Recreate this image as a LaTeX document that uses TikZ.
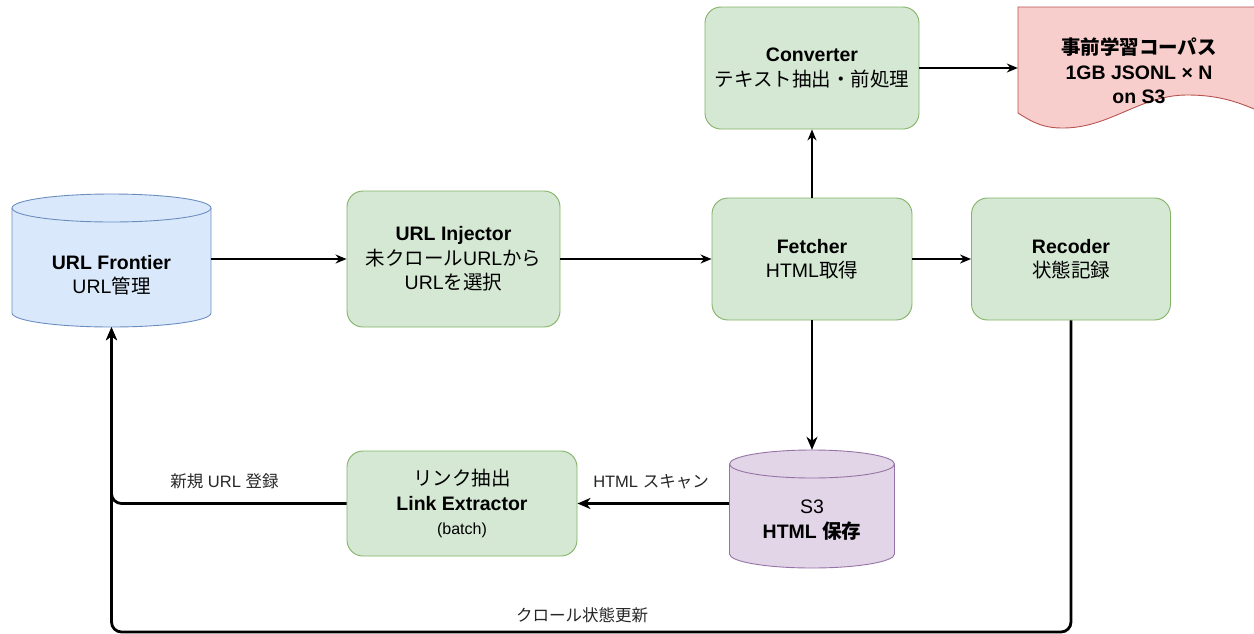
\documentclass[tikz,border=0pt]{standalone}
\usepackage{fontspec}
\setmainfont{Liberation Sans}
\newfontfamily\jpfont{Noto Sans CJK JP}
\newcommand\ja[1]{{\jpfont #1}}
\usetikzlibrary{arrows.meta}
\definecolor{gF}{HTML}{D5E8D4}
\definecolor{gD}{HTML}{82B366}
\definecolor{bF}{HTML}{DAE8FC}
\definecolor{bD}{HTML}{6C8EBF}
\definecolor{pF}{HTML}{E1D5E7}
\definecolor{pD}{HTML}{9673A6}
\definecolor{rF}{HTML}{F8CECC}
\definecolor{rD}{HTML}{B85450}
\begin{document}
\begin{tikzpicture}[x=1pt,y=-1pt,
  mainfs/.style={font=\fontsize{19.5}{24.5}\selectfont},
  box/.style={draw=gD, fill=gF, rounded corners=16pt, line width=0.9pt, align=center, mainfs, inner sep=0pt},
  anchorbox/.style={draw=none, inner sep=0pt, align=center, mainfs},
  arr/.style={-{Stealth[length=11pt,width=9pt,inset=3.5pt]}, line width=1.4pt},
  tarr/.style={-{Stealth[length=13pt,width=11pt,inset=4pt]}, line width=2.8pt, rounded corners=10pt},
  lbl/.style={font=\fontsize{16.5}{19}\selectfont, text=black!85}]
\useasboundingbox (0,0) rectangle (1254,633);
\fill[white] (0,0) rectangle (1254,633);

% URL Frontier cylinder
\draw[draw=bD, fill=bF, line width=0.9pt] (12,208) -- (12,313)
  arc[start angle=180,end angle=360,x radius=99.5pt,y radius=14pt] -- (211,208)
  arc[start angle=0,end angle=180,x radius=99.5pt,y radius=14pt] -- cycle;
\draw[draw=bD, line width=0.9pt] (12,208) arc[start angle=180,end angle=360,x radius=99.5pt,y radius=14pt];
\node[anchorbox, minimum width=199pt, minimum height=133pt] (front) at (111.5,260.5) {};
\node[anchorbox] (fronttxt) at (111.5,275) {\textbf{URL Frontier}\\URL\ja{管理}};

% S3 cylinder
\draw[draw=pD, fill=pF, line width=0.9pt] (729.5,464) -- (729.5,554)
  arc[start angle=180,end angle=360,x radius=82.5pt,y radius=14pt] -- (894.5,464)
  arc[start angle=0,end angle=180,x radius=82.5pt,y radius=14pt] -- cycle;
\draw[draw=pD, line width=0.9pt] (729.5,464) arc[start angle=180,end angle=360,x radius=82.5pt,y radius=14pt];
\node[anchorbox, minimum width=165pt, minimum height=118pt] (s3) at (812,509) {};
\node[anchorbox] (s3txt) at (812,520) {S3\\\textbf{HTML \ja{保存}}};

% corpus document
\draw[draw=rD, fill=rF, line width=0.9pt] (1018,7) -- (1270,7) -- (1270,116)
  .. controls (1245,105) and (1225,95) .. (1187,95)
  .. controls (1140,95) and (1110,128) .. (1063,128)
  .. controls (1045,128) and (1035,124) .. (1018,113) -- cycle;
\node[anchorbox, minimum width=240pt, minimum height=123pt] (corpus) at (1138,68.5) {};
\node[anchorbox] (corptxt) at (1139,71) {\textbf{\ja{事前学習コーパス}}\\\textbf{1GB JSONL × N}\\\textbf{on S3}};

% boxes
\node[box, minimum width=213pt, minimum height=136pt] (inj) at (453.5,259) {\textbf{URL Injector}\\\ja{未クロール}URL\ja{から}\\URL\ja{を選択}};
\node[box, minimum width=200pt, minimum height=122pt] (fet) at (812,259) {\textbf{Fetcher}\\HTML\ja{取得}};
\node[box, minimum width=199pt, minimum height=122pt] (rec) at (1071,259) {\textbf{Recoder}\\\ja{状態記録}};
\node[box, minimum width=214pt, minimum height=122pt] (conv) at (812,68) {\textbf{Converter}\\\ja{テキスト抽出・前処理}};
\node[box, minimum width=230pt, minimum height=105pt] (link) at (462,503.5) {\ja{リンク抽出}\\\textbf{Link Extractor}\\{\fontsize{16}{19}\selectfont (batch)}};

% connectors
\draw[arr] (front.east |- inj.west) -- (inj.west);
\draw[arr] (inj.east) -- (fet.west);
\draw[arr] (fet.east) -- (rec.west);
\draw[arr] (fet.north) -- (conv.south);
\draw[arr] (conv.east) -- (corpus.west |- conv.east);
\draw[tarr] (fet.south) -- (s3.north);
\draw[tarr] (s3.west |- link.east) -- (link.east);
\draw[tarr] (link.west) -| (front.south);
\coordinate (br) at (1071,632);
\coordinate (bl) at (111.5,632);
\draw[tarr] (rec.south) -- (br) -- (bl) -- (front.south);

% labels
\node[lbl] (l1) at (224.5,481) {\ja{新規} URL \ja{登録}};
\node[lbl] (l2) at (651,482) {HTML \ja{スキャン}};
\node[lbl] (l3) at (582,615) {\ja{クロール状態更新}};
\end{tikzpicture}
\end{document}
